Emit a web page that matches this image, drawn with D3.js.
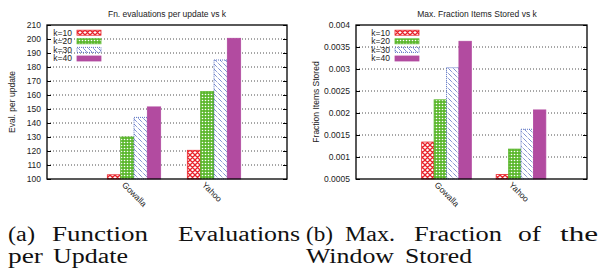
<!DOCTYPE html>
<html>
<head>
<meta charset="utf-8">
<script src="https://cdn.jsdelivr.net/npm/d3@7"></script>
<style>
body { margin: 0; background: #fff; }
svg text { font-family: "Liberation Sans", Arial, sans-serif; }
</style>
</head>
<body>
<svg id="fig" width="605" height="269"></svg>
<script>
// data
const categories = ["Gowalla", "Yahoo"];
const seriesNames = ["k=10", "k=20", "k=30", "k=40"];
const evalValues = [
    [103, 120.5],
    [130, 162.5],
    [144, 185],
    [151.5, 200.5]
];
const fracValues = [
    [0.00134, 0.0006],
    [0.0023, 0.00118],
    [0.00303, 0.00163],
    [0.00363, 0.00207]
];
const evalTicks = [100, 110, 120, 130, 140, 150, 160, 170, 180, 190, 200, 210];
const fracTicks = [0.0005, 0.001, 0.0015, 0.002, 0.0025, 0.003, 0.0035, 0.004];
const fracTickLabels = ["0.0005", "0.001", "0.0015", "0.002", "0.0025", "0.003", "0.0035", "0.004"];

const colors = ["#e8222a", "#5cb82e", "#3350b5", "#b24ba0"];

const svg = d3.select("#fig");
const defs = svg.append("defs");

// fill patterns, roughly like gnuplot's
const p0 = defs.append("pattern").attr("id", "pat0").attr("patternUnits", "userSpaceOnUse")
    .attr("width", 5).attr("height", 5);
p0.append("rect").attr("width", 5).attr("height", 5).attr("fill", "#fff");
p0.append("path").attr("d", "M0,0L5,5M5,0L0,5M-1,4L1,6M4,-1L6,1M-1,1L1,-1M4,6L6,4")
    .attr("stroke", colors[0]).attr("stroke-width", 1.3);

const p1 = defs.append("pattern").attr("id", "pat1").attr("patternUnits", "userSpaceOnUse")
    .attr("width", 3).attr("height", 3);
p1.append("rect").attr("width", 3).attr("height", 3).attr("fill", colors[1]);
p1.append("circle").attr("cx", 1.5).attr("cy", 1.5).attr("r", 0.8).attr("fill", "#fff");

const p2 = defs.append("pattern").attr("id", "pat2").attr("patternUnits", "userSpaceOnUse")
    .attr("width", 5).attr("height", 5);
p2.append("rect").attr("width", 5).attr("height", 5).attr("fill", "#fff");
p2.append("path").attr("d", "M0,0L5,5").attr("stroke", colors[2]).attr("stroke-width", 0.9)
    .attr("stroke-dasharray", "1,1");

const fills = ["url(#pat0)", "url(#pat1)", "url(#pat2)", colors[3]];

function drawChart(opt) {
    const g = svg.append("g");
    const { left, right, top, bottom } = opt;

    const x = d3.scaleLinear().domain(opt.xDomain).range([left, right]);
    const y = d3.scaleLinear().domain(opt.yDomain).range([bottom, top]);
    const bw = x(1) - x(0);
    const barW = bw / 6;

    // grid
    g.append("g").selectAll("line").data(opt.ticks.slice(1, -1)).enter().append("line")
        .attr("x1", left).attr("x2", right)
        .attr("y1", d => y(d)).attr("y2", d => y(d))
        .attr("stroke", "#222").attr("stroke-width", 0.8).attr("stroke-dasharray", "1,2");

    // legend box covers grid
    g.append("rect").attr("x", left + 1).attr("y", top + 1)
        .attr("width", opt.keyRight - left).attr("height", 37).attr("fill", "#fff");

    // bars
    seriesNames.forEach((s, j) => {
        g.append("g").selectAll("rect").data(opt.values[j]).enter().append("rect")
            .attr("x", (d, i) => x(i) + (j - 2) * barW)
            .attr("y", d => y(d))
            .attr("width", barW)
            .attr("height", d => bottom - y(d))
            .attr("fill", fills[j])
            .attr("stroke", colors[j])
            .attr("stroke-width", 0.8)
            .attr("stroke-dasharray", j === 2 ? "1,1" : null);
    });

    // frame
    g.append("rect").attr("x", left).attr("y", top).attr("width", right - left).attr("height", bottom - top)
        .attr("fill", "none").attr("stroke", "#000").attr("stroke-width", 1.3);

    // y axis (ticks inward, mirrored)
    const yAxis = d3.axisLeft(y).tickValues(opt.ticks).tickSizeInner(-4).tickSizeOuter(0).tickPadding(6);
    if (opt.tickLabels) yAxis.tickFormat((d, i) => opt.tickLabels[i]);
    const ya = g.append("g").attr("transform", `translate(${left},0)`).call(yAxis);
    ya.select(".domain").remove();
    ya.selectAll("text").attr("font-size", 8.5).attr("fill", "#222")
        .style("font-family", "'Liberation Sans', Arial, sans-serif");
    const yr = g.append("g").attr("transform", `translate(${right},0)`)
        .call(d3.axisRight(y).tickValues(opt.ticks).tickSizeInner(-4).tickSizeOuter(0).tickFormat(""));
    yr.select(".domain").remove();
    g.selectAll(".tick line").attr("stroke", "#000");

    // x labels
    g.append("g").selectAll("text").data(categories).enter().append("text")
        .attr("transform", (d, i) => `translate(${x(i) - 8},${bottom + 2}) rotate(45)`)
        .attr("dy", "0.75em")
        .attr("font-size", 8.5).attr("fill", "#222")
        .text(d => d);

    // title
    g.append("text").attr("x", opt.titleX).attr("y", 17).attr("text-anchor", "middle")
        .attr("font-size", 8.5).attr("fill", "#222").text(opt.title);

    // y title
    g.append("text").attr("transform", `translate(${opt.yTitleX},${(top + bottom) / 2}) rotate(-90)`)
        .attr("text-anchor", "middle").attr("font-size", 8.5).attr("fill", "#222").text(opt.yTitle);

    // legend
    seriesNames.forEach((s, j) => {
        const ly = top + 7.7 + j * 8.6;
        g.append("text").attr("x", opt.keyText).attr("y", ly).attr("dy", "0.35em")
            .attr("text-anchor", "end").attr("font-size", 8.5).attr("fill", "#222").text(s);
        g.append("rect").attr("x", opt.keyText + 5).attr("y", ly - 2.5)
            .attr("width", 24).attr("height", 5)
            .attr("fill", fills[j]).attr("stroke", colors[j]).attr("stroke-width", 0.8)
            .attr("stroke-dasharray", j === 2 ? "1,1" : null);
    });
}

drawChart({
    left: 47, right: 287, top: 25, bottom: 179,
    xDomain: [-1.0875, 1.9125], yDomain: [100, 210],
    ticks: evalTicks, values: evalValues,
    title: "Fn. evaluations per update vs k", titleX: 167,
    yTitle: "Eval. per update", yTitleX: 15,
    keyText: 72, keyRight: 58
});

drawChart({
    left: 356, right: 587, top: 25, bottom: 179,
    xDomain: [-1.215, 1.886], yDomain: [0.0005, 0.004],
    ticks: fracTicks, tickLabels: fracTickLabels, values: fracValues,
    title: "Max. Fraction Items Stored  vs k", titleX: 477,
    yTitle: "Fraction Items Stored", yTitleX: 319,
    keyText: 390, keyRight: 66
});

// captions
const captionWords = [
    ["(a)", 8, 241, 27], ["Function", 52, 241, 96], ["Evaluations", 178, 241, 122],
    ["per", 8, 263, 35], ["Update", 53, 263, 75],
    ["(b)", 306, 241, 27], ["Max.", 345, 241, 50], ["Fraction", 414, 241, 88],
    ["of", 518, 241, 23], ["the", 560, 241, 38],
    ["Window", 306, 263, 88], ["Stored", 405, 263, 67]
];
svg.append("g").selectAll("text").data(captionWords).enter().append("text")
    .attr("x", d => d[1]).attr("y", d => d[2])
    .attr("textLength", d => d[3]).attr("lengthAdjust", "spacingAndGlyphs")
    .style("font-family", "'Liberation Serif', 'Times New Roman', serif")
    .attr("font-size", 20.5).attr("fill", "#111")
    .text(d => d[0]);
</script>
</body>
</html>
